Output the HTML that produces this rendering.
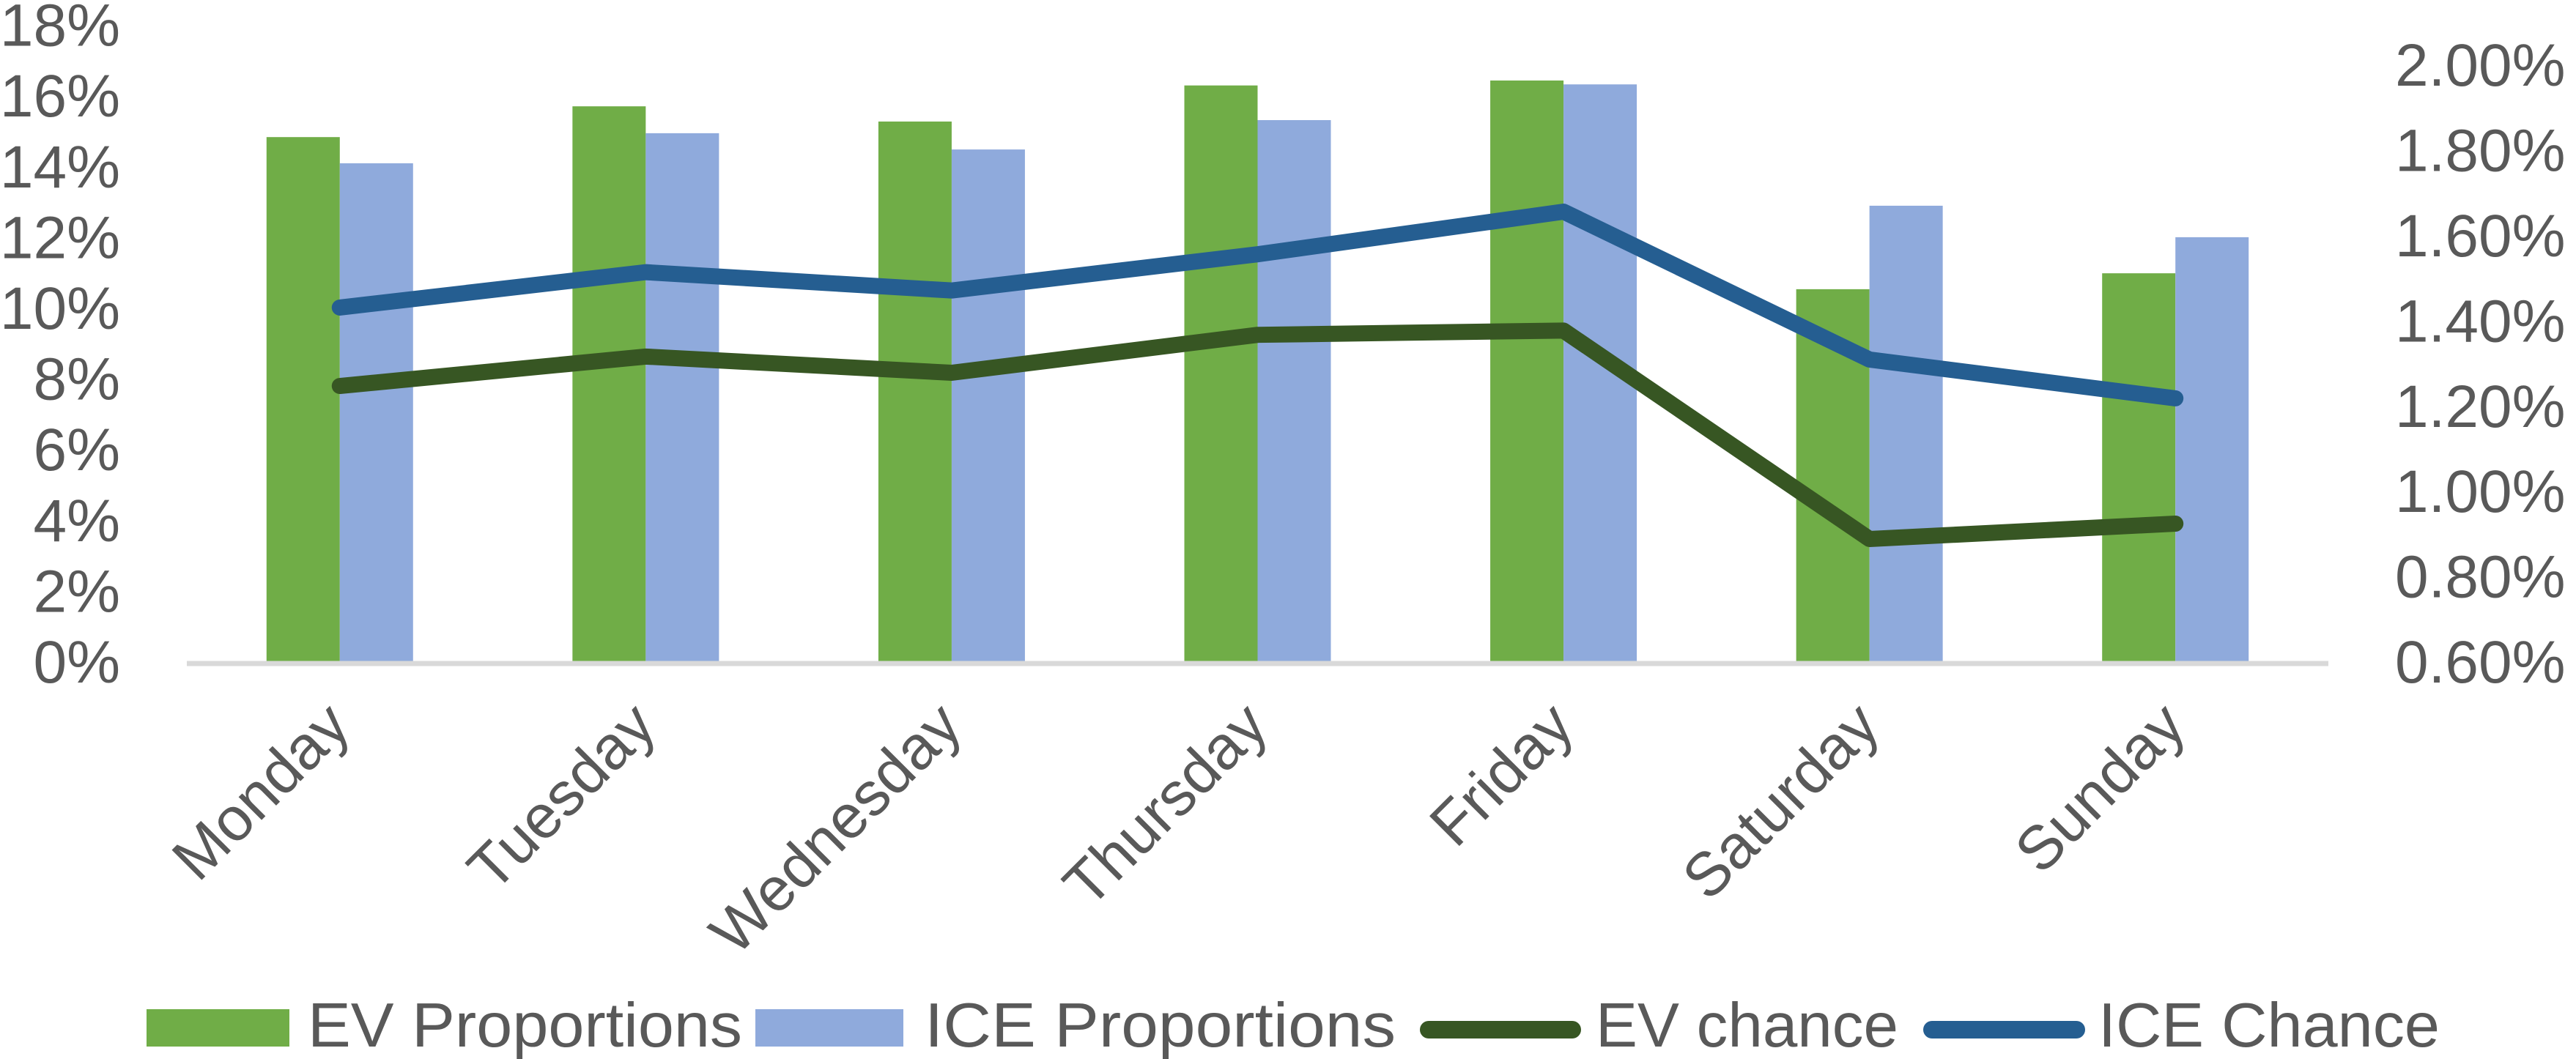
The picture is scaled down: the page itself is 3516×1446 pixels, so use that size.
<!DOCTYPE html>
<html><head><meta charset="utf-8"><style>
html,body{margin:0;padding:0;background:#fff;}
svg{display:block;font-family:"Liberation Sans",Arial,sans-serif;}
</style></head><body>
<svg id="chart" width="3516" height="1446" viewBox="0 0 3516 1446" xmlns="http://www.w3.org/2000/svg">
<g id="bars"></g>
<g id="lines"></g>
<g id="axes"></g>
<g id="legend">
  <rect x="200" y="1378" width="195" height="51" fill="#70AD47"/>
  <text x="420" y="1429" font-size="85" fill="#595959" textLength="593" lengthAdjust="spacingAndGlyphs">EV Proportions</text>
  <rect x="1031" y="1378" width="202" height="51" fill="#8FAADC"/>
  <text x="1262" y="1429" font-size="85" fill="#595959" textLength="643" lengthAdjust="spacingAndGlyphs">ICE Proportions</text>
  <line x1="1950" y1="1406" x2="2146" y2="1406" stroke="#375623" stroke-width="24" stroke-linecap="round"/>
  <text x="2178" y="1429" font-size="85" fill="#595959" textLength="413" lengthAdjust="spacingAndGlyphs">EV chance</text>
  <line x1="2637" y1="1406" x2="2834" y2="1406" stroke="#255E91" stroke-width="24" stroke-linecap="round"/>
  <text x="2864" y="1429" font-size="85" fill="#595959" textLength="466" lengthAdjust="spacingAndGlyphs">ICE Chance</text>
</g>
</svg>
<script>
const categories = ["Monday","Tuesday","Wednesday","Thursday","Friday","Saturday","Sunday"];
const evProportions = [14.82, 15.69, 15.26, 16.28, 16.42, 10.52, 10.97];
const iceProportions = [14.08, 14.93, 14.47, 15.30, 16.31, 12.88, 11.99];
const evChance = [1.246, 1.315, 1.277, 1.366, 1.376, 0.887, 0.923];
const iceChance = [1.43, 1.513, 1.47, 1.555, 1.655, 1.308, 1.217];
const leftTicks = [0,2,4,6,8,10,12,14,16,18];
const rightTicks = [0.6,0.8,1.0,1.2,1.4,1.6,1.8,2.0];

const NS = "http://www.w3.org/2000/svg";
const plotL = 255, plotR = 3178, base = 903;
const band = (plotR - plotL) / categories.length;
function xC(i){ return plotL + band * (i + 0.5); }
function yL(v){ return base - v * 48.3; }
function yR(v){ return base - (v - 0.6) / 0.2 * 116.4; }
function mk(tag, attrs, parent){
  const e = document.createElementNS(NS, tag);
  for (const k in attrs) e.setAttribute(k, attrs[k]);
  parent.appendChild(e);
  return e;
}
const bars = document.getElementById('bars');
const lines = document.getElementById('lines');
const axes = document.getElementById('axes');
const bw = 100;
categories.forEach((c, i) => {
  const g = mk('rect', {x: xC(i) - bw, y: yL(evProportions[i]), width: bw, height: base - yL(evProportions[i]), fill: '#70AD47'}, bars);
  
  
  const b = mk('rect', {x: xC(i), y: yL(iceProportions[i]), width: bw, height: base - yL(iceProportions[i]), fill: '#8FAADC'}, bars);
  
  
  const t = mk('text', {x: 0, y: 0, 'font-size': 84, fill: '#595959', 'text-anchor': 'end',
    transform: 'translate(' + (xC(i) + 18) + ',995) rotate(-45)'}, axes);
  t.textContent = c;
  
  
});
const ax = mk('line', {x1: plotL, y1: base + 3, x2: plotR, y2: base + 3, stroke: '#D9D9D9', 'stroke-width': 7}, axes);


leftTicks.forEach(v => {
  const t = mk('text', {x: 164, y: yL(v) + 29, 'font-size': 82, fill: '#595959', 'text-anchor': 'end'}, axes);
  t.textContent = v + '%';
  
  
});
rightTicks.forEach(v => {
  const t = mk('text', {x: 3269, y: yR(v) + 29, 'font-size': 82, fill: '#595959'}, axes);
  t.textContent = v.toFixed(2) + '%';
  
  
});
function poly(vals, color, name){
  const pts = vals.map((v, i) => xC(i) + ',' + yR(v)).join(' ');
  const p = mk('polyline', {points: pts, fill: 'none', stroke: color, 'stroke-width': 22, 'stroke-linecap': 'round', 'stroke-linejoin': 'round'}, lines);
  
  
}
poly(evChance, '#375623', 'line-ev-chance');
poly(iceChance, '#255E91', 'line-ice-chance');
</script>
</body></html>
